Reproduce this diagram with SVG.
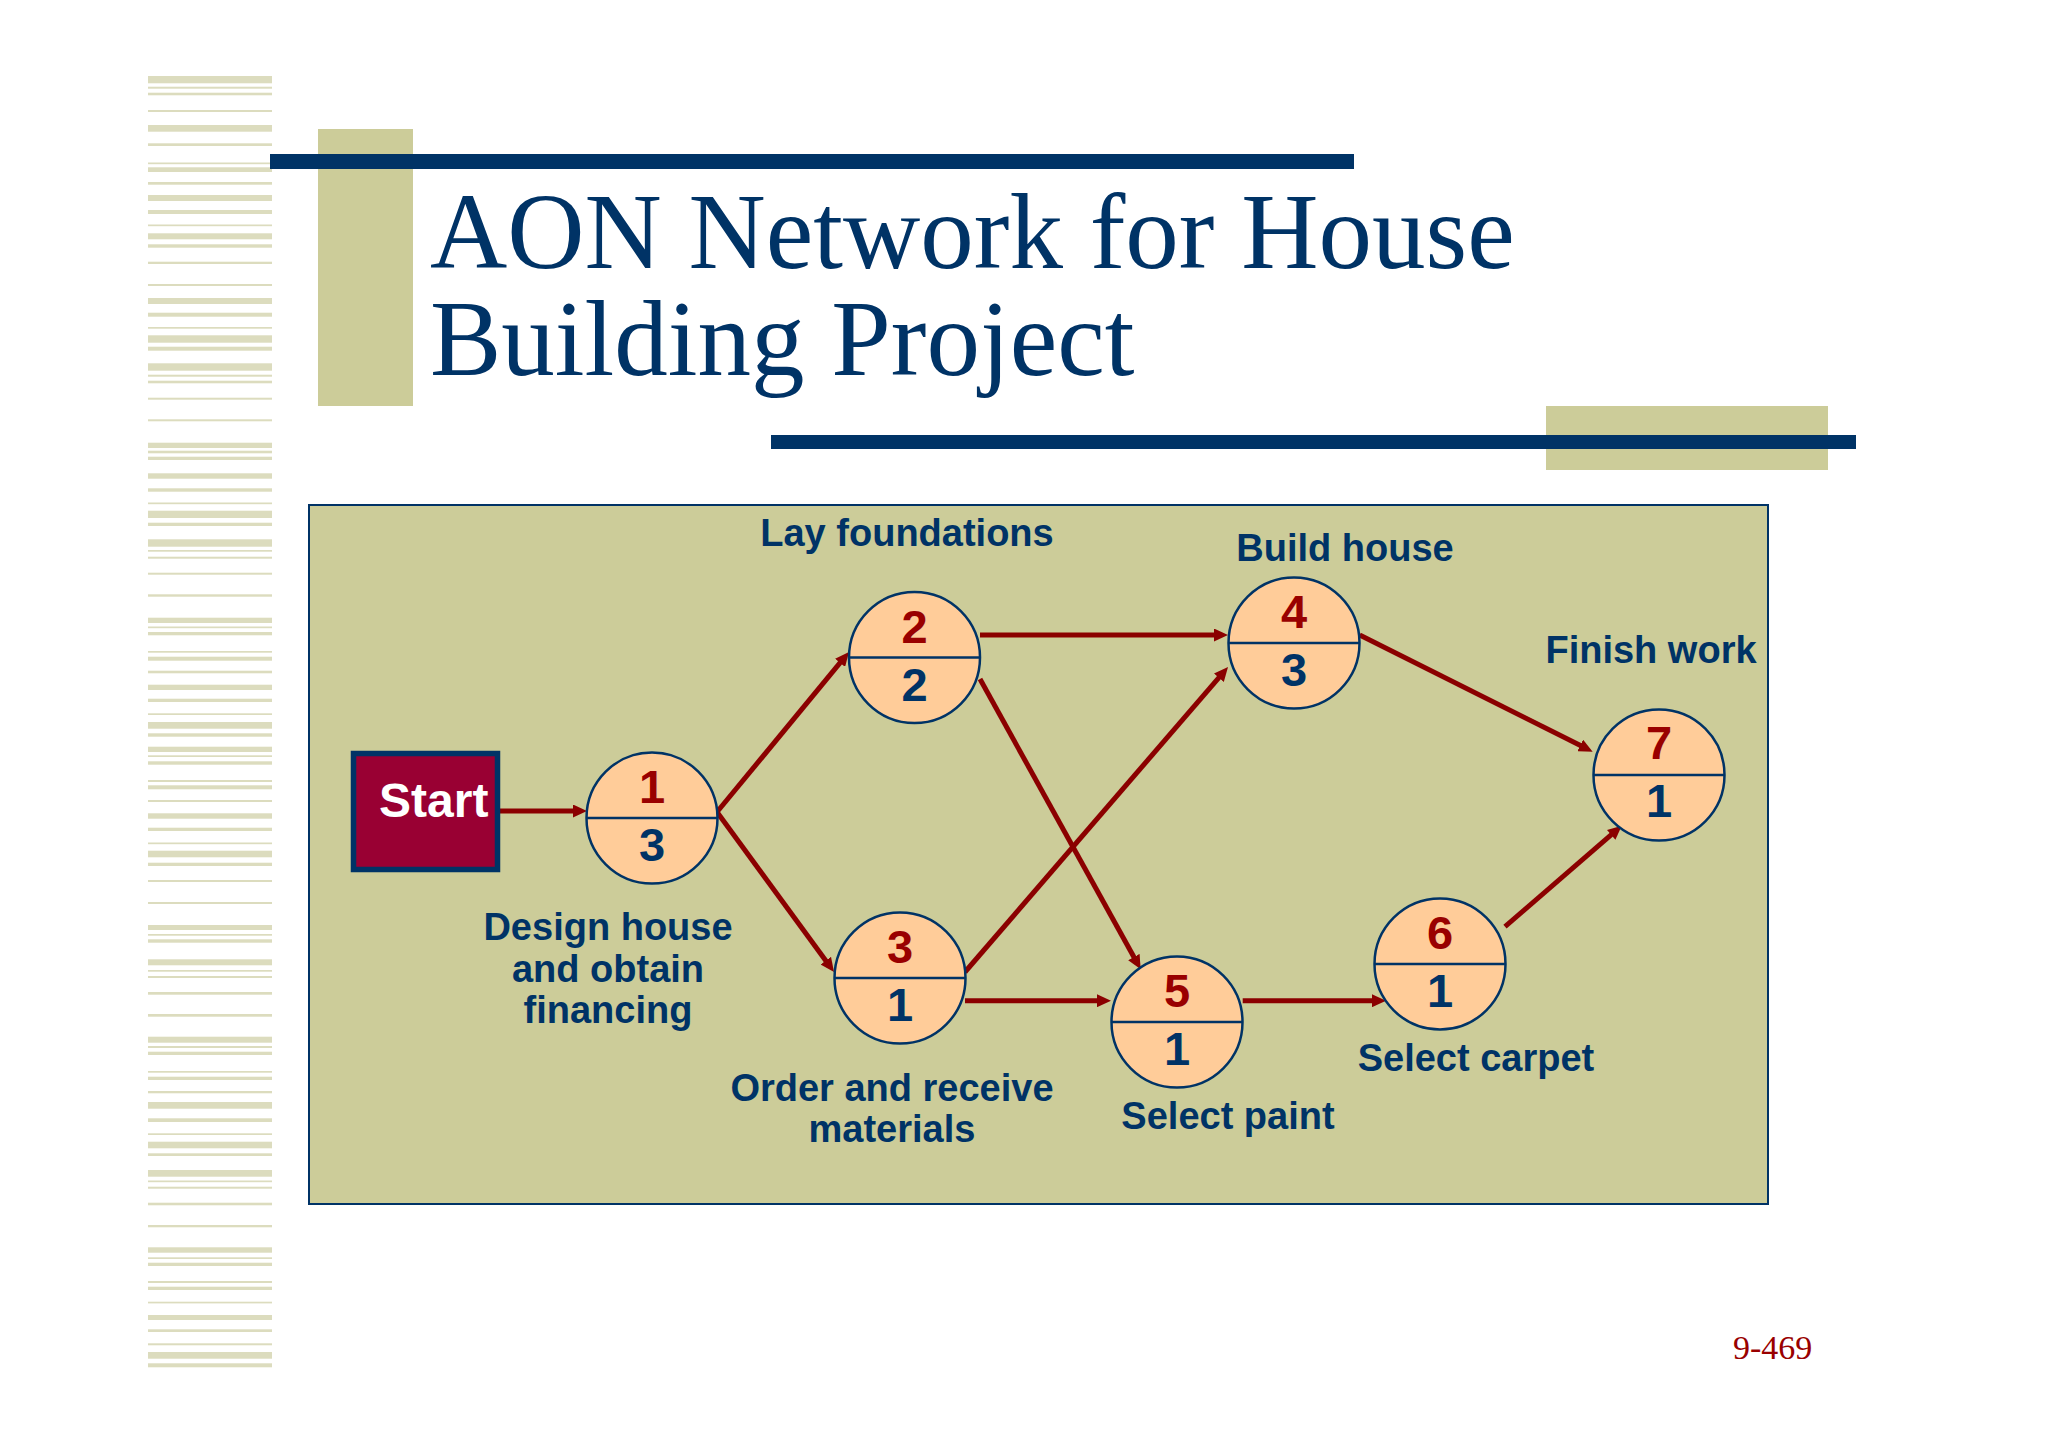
<svg xmlns="http://www.w3.org/2000/svg" width="2048" height="1447" viewBox="0 0 2048 1447">
<style>
.stripe{fill:#DCDCBE}
.olive{fill:#CCCC99}
.bar{fill:#003366}
.title{font-family:"Liberation Serif","Times New Roman",serif;font-size:107px;fill:#003366}
.node circle{fill:#FFCC99;stroke:#003366;stroke-width:2.5}
.node line{stroke:#003366;stroke-width:2.5}
.top{font-family:"Liberation Sans",Arial,sans-serif;font-weight:bold;font-size:47px;fill:#990000;text-anchor:middle}
.bot{font-family:"Liberation Sans",Arial,sans-serif;font-weight:bold;font-size:47px;fill:#003366;text-anchor:middle}
.lbl{font-family:"Liberation Sans",Arial,sans-serif;font-weight:bold;font-size:38px;fill:#003366;text-anchor:middle}
.conn line{stroke:#8B0000;stroke-width:5;marker-end:url(#ah)}
</style>
<defs>
<marker id="ah" viewBox="0 0 14 13" refX="6" refY="6.5" markerWidth="14" markerHeight="13" markerUnits="userSpaceOnUse" orient="auto">
<path d="M0,0 L14,6.5 L0,13 z" fill="#8B0000"/>
</marker>
</defs>
<rect width="2048" height="1447" fill="#FFFFFF"/>
<g id="stripes">
<rect class="stripe" x="148" width="124" y="76" height="7.3"/>
<rect class="stripe" x="148" width="124" y="86.7" height="2"/>
<rect class="stripe" x="148" width="124" y="92.7" height="2.6"/>
<rect class="stripe" x="148" width="124" y="110" height="2"/>
<rect class="stripe" x="148" width="124" y="125" height="6.7"/>
<rect class="stripe" x="148" width="124" y="143.3" height="2.7"/>
<rect class="stripe" x="148" width="124" y="162.5" height="1.7"/>
<rect class="stripe" x="148" width="124" y="167.3" height="4.7"/>
<rect class="stripe" x="148" width="124" y="182" height="2.7"/>
<rect class="stripe" x="148" width="124" y="195" height="6"/>
<rect class="stripe" x="148" width="124" y="210" height="4"/>
<rect class="stripe" x="148" width="124" y="224.5" height="1.7"/>
<rect class="stripe" x="148" width="124" y="233.3" height="6"/>
<rect class="stripe" x="148" width="124" y="244.3" height="3.4"/>
<rect class="stripe" x="148" width="124" y="261.7" height="2.3"/>
<rect class="stripe" x="148" width="124" y="284" height="2"/>
<rect class="stripe" x="148" width="124" y="298" height="6"/>
<rect class="stripe" x="148" width="124" y="312.7" height="4"/>
<rect class="stripe" x="148" width="124" y="327" height="1.7"/>
<rect class="stripe" x="148" width="124" y="335.3" height="7.4"/>
<rect class="stripe" x="148" width="124" y="346.7" height="4"/>
<rect class="stripe" x="148" width="124" y="363.3" height="7.4"/>
<rect class="stripe" x="148" width="124" y="374.7" height="2"/>
<rect class="stripe" x="148" width="124" y="380.7" height="2.6"/>
<rect class="stripe" x="148" width="124" y="397.7" height="2"/>
<rect class="stripe" x="148" width="124" y="419.3" height="2"/>
<rect class="stripe" x="148" width="124" y="442.7" height="5.3"/>
<rect class="stripe" x="148" width="124" y="450.7" height="2.6"/>
<rect class="stripe" x="148" width="124" y="456.7" height="3.3"/>
<rect class="stripe" x="148" width="124" y="473.3" height="5.4"/>
<rect class="stripe" x="148" width="124" y="488.3" height="3.4"/>
<rect class="stripe" x="148" width="124" y="502.5" height="1.7"/>
<rect class="stripe" x="148" width="124" y="510.7" height="7.3"/>
<rect class="stripe" x="148" width="124" y="522.7" height="3.3"/>
<rect class="stripe" x="148" width="124" y="539.3" height="7.4"/>
<rect class="stripe" x="148" width="124" y="550" height="1.7"/>
<rect class="stripe" x="148" width="124" y="556.7" height="2"/>
<rect class="stripe" x="148" width="124" y="572.7" height="2"/>
<rect class="stripe" x="148" width="124" y="594.3" height="2.4"/>
<rect class="stripe" x="148" width="124" y="617.7" height="5.3"/>
<rect class="stripe" x="148" width="124" y="626.5" height="1.7"/>
<rect class="stripe" x="148" width="124" y="632" height="3.3"/>
<rect class="stripe" x="148" width="124" y="651" height="1.7"/>
<rect class="stripe" x="148" width="124" y="656.7" height="4"/>
<rect class="stripe" x="148" width="124" y="670.7" height="2.6"/>
<rect class="stripe" x="148" width="124" y="684.7" height="5.3"/>
<rect class="stripe" x="148" width="124" y="698.7" height="3.3"/>
<rect class="stripe" x="148" width="124" y="713.3" height="1.7"/>
<rect class="stripe" x="148" width="124" y="722" height="6.7"/>
<rect class="stripe" x="148" width="124" y="733.3" height="3.4"/>
<rect class="stripe" x="148" width="124" y="746.7" height="5.3"/>
<rect class="stripe" x="148" width="124" y="755.3" height="1.7"/>
<rect class="stripe" x="148" width="124" y="761.3" height="3.4"/>
<rect class="stripe" x="148" width="124" y="780" height="2"/>
<rect class="stripe" x="148" width="124" y="785.3" height="4"/>
<rect class="stripe" x="148" width="124" y="800" height="2"/>
<rect class="stripe" x="148" width="124" y="813.3" height="5.4"/>
<rect class="stripe" x="148" width="124" y="827.7" height="3.3"/>
<rect class="stripe" x="148" width="124" y="842.5" height="1.7"/>
<rect class="stripe" x="148" width="124" y="850.7" height="6.6"/>
<rect class="stripe" x="148" width="124" y="862.7" height="3.3"/>
<rect class="stripe" x="148" width="124" y="880" height="2"/>
<rect class="stripe" x="148" width="124" y="902" height="2"/>
<rect class="stripe" x="148" width="124" y="925" height="5"/>
<rect class="stripe" x="148" width="124" y="934" height="1.7"/>
<rect class="stripe" x="148" width="124" y="939.3" height="3.4"/>
<rect class="stripe" x="148" width="124" y="959.3" height="6"/>
<rect class="stripe" x="148" width="124" y="970" height="1.7"/>
<rect class="stripe" x="148" width="124" y="976" height="2"/>
<rect class="stripe" x="148" width="124" y="992" height="2.7"/>
<rect class="stripe" x="148" width="124" y="1014" height="2.7"/>
<rect class="stripe" x="148" width="124" y="1036.7" height="6"/>
<rect class="stripe" x="148" width="124" y="1046" height="2"/>
<rect class="stripe" x="148" width="124" y="1051.7" height="3.3"/>
<rect class="stripe" x="148" width="124" y="1071" height="1.7"/>
<rect class="stripe" x="148" width="124" y="1076.7" height="3.3"/>
<rect class="stripe" x="148" width="124" y="1091" height="2.3"/>
<rect class="stripe" x="148" width="124" y="1102" height="6.7"/>
<rect class="stripe" x="148" width="124" y="1118.3" height="3.7"/>
<rect class="stripe" x="148" width="124" y="1133.3" height="1.7"/>
<rect class="stripe" x="148" width="124" y="1141.7" height="6.6"/>
<rect class="stripe" x="148" width="124" y="1153.3" height="2.7"/>
<rect class="stripe" x="148" width="124" y="1170" height="6.7"/>
<rect class="stripe" x="148" width="124" y="1180.5" height="1.7"/>
<rect class="stripe" x="148" width="124" y="1186.7" height="2"/>
<rect class="stripe" x="148" width="124" y="1202.7" height="2.6"/>
<rect class="stripe" x="148" width="124" y="1225" height="2.3"/>
<rect class="stripe" x="148" width="124" y="1247.3" height="5.4"/>
<rect class="stripe" x="148" width="124" y="1257.3" height="1.7"/>
<rect class="stripe" x="148" width="124" y="1262.7" height="3.3"/>
<rect class="stripe" x="148" width="124" y="1281" height="2"/>
<rect class="stripe" x="148" width="124" y="1286.7" height="3.3"/>
<rect class="stripe" x="148" width="124" y="1301.7" height="1.7"/>
<rect class="stripe" x="148" width="124" y="1315" height="5"/>
<rect class="stripe" x="148" width="124" y="1329.3" height="2.7"/>
<rect class="stripe" x="148" width="124" y="1343.3" height="2"/>
<rect class="stripe" x="148" width="124" y="1352" height="6.7"/>
<rect class="stripe" x="148" width="124" y="1363.3" height="4"/>
</g>
<g id="title-decor">
<rect class="olive" x="318" y="129" width="95" height="277"/>
<rect class="olive" x="1546" y="406" width="282" height="64"/>
<rect class="bar" x="270" y="154" width="1084" height="15"/>
<rect class="bar" x="771" y="435" width="1085" height="14"/>
</g>
<g id="title">
<text class="title" x="430" y="268">AON Network for House</text>
<text class="title" x="430" y="375">Building Project</text>
</g>
<rect id="panel" x="309" y="505" width="1459" height="699" fill="#CCCC99" stroke="#003366" stroke-width="2"/>
<g id="connectors" class="conn">
<line x1="500" y1="811" x2="579" y2="811"/>
<line x1="717" y1="812" x2="843.9" y2="658.2"/>
<line x1="717" y1="812" x2="829.3" y2="965.5"/>
<line x1="980" y1="635" x2="1220" y2="635"/>
<line x1="980" y1="679" x2="1136.8" y2="962.3"/>
<line x1="965" y1="972" x2="1222.8" y2="673.1"/>
<line x1="965" y1="1000.7" x2="1103" y2="1000.7"/>
<line x1="1359.7" y1="635" x2="1585.5" y2="748.1"/>
<line x1="1242.7" y1="1000.7" x2="1378" y2="1000.7"/>
<line x1="1505" y1="926.7" x2="1615.7" y2="830.9"/>
</g>
<g id="start">
<rect x="353.5" y="753.5" width="144" height="116" fill="#990033" stroke="#003366" stroke-width="5.5"/>
<text x="379" y="817" font-family="'Liberation Sans',Arial,sans-serif" font-weight="bold" font-size="48" fill="#FFFFFF">Start</text>
</g>
<g id="node1" class="node">
<circle cx="652" cy="818" r="65.5"/>
<line x1="586.5" y1="818" x2="717.5" y2="818"/>
<text class="top" x="652" y="803">1</text>
<text class="bot" x="652" y="861">3</text>
</g>
<g id="node2" class="node">
<circle cx="914.5" cy="657.5" r="65.5"/>
<line x1="849" y1="657.5" x2="980" y2="657.5"/>
<text class="top" x="914.5" y="642.5">2</text>
<text class="bot" x="914.5" y="700.5">2</text>
</g>
<g id="node3" class="node">
<circle cx="900" cy="978" r="65.5"/>
<line x1="834.5" y1="978" x2="965.5" y2="978"/>
<text class="top" x="900" y="963">3</text>
<text class="bot" x="900" y="1021">1</text>
</g>
<g id="node4" class="node">
<circle cx="1294" cy="643" r="65.5"/>
<line x1="1228.5" y1="643" x2="1359.5" y2="643"/>
<text class="top" x="1294" y="628">4</text>
<text class="bot" x="1294" y="686">3</text>
</g>
<g id="node5" class="node">
<circle cx="1177" cy="1022" r="65.5"/>
<line x1="1111.5" y1="1022" x2="1242.5" y2="1022"/>
<text class="top" x="1177" y="1007">5</text>
<text class="bot" x="1177" y="1065">1</text>
</g>
<g id="node6" class="node">
<circle cx="1440" cy="964" r="65.5"/>
<line x1="1374.5" y1="964" x2="1505.5" y2="964"/>
<text class="top" x="1440" y="949">6</text>
<text class="bot" x="1440" y="1007">1</text>
</g>
<g id="node7" class="node">
<circle cx="1659" cy="775" r="65.5"/>
<line x1="1593.5" y1="775" x2="1724.5" y2="775"/>
<text class="top" x="1659" y="759">7</text>
<text class="bot" x="1659" y="817">1</text>
</g>
<g id="labels">
<text class="lbl" x="608" y="940">Design house</text>
<text class="lbl" x="608" y="982">and obtain</text>
<text class="lbl" x="608" y="1023">financing</text>
<text class="lbl" x="907" y="546">Lay foundations</text>
<text class="lbl" x="1345" y="561">Build house</text>
<text class="lbl" x="1651" y="663">Finish work</text>
<text class="lbl" x="892" y="1101">Order and receive</text>
<text class="lbl" x="892" y="1142">materials</text>
<text class="lbl" x="1228" y="1129">Select paint</text>
<text class="lbl" x="1476" y="1071">Select carpet</text>
</g>
<text id="page" x="1733" y="1359" font-family="'Liberation Serif','Times New Roman',serif" font-size="34" fill="#990000">9-469</text>
</svg>
